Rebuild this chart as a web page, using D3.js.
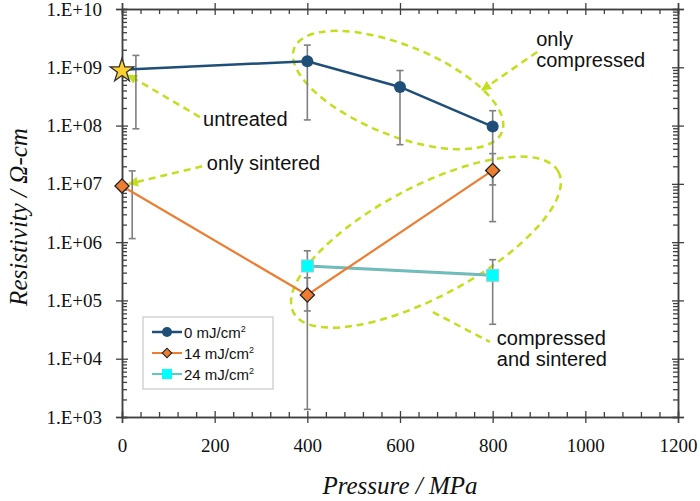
<!DOCTYPE html>
<html>
<head>
<meta charset="utf-8">
<script src="https://cdn.jsdelivr.net/npm/d3@7"></script>
<style>
  body { margin: 0; background: #fff; }
  svg { display: block; }
</style>
</head>
<body>
<script>
const w = 700;
const h = 501;
const plotLeft = 122, plotRight = 678, plotTop = 9, plotBottom = 417;

// ---- data ----
const xTicks = [0, 200, 400, 600, 800, 1000, 1200];
const yTicks = [1e3, 1e4, 1e5, 1e6, 1e7, 1e8, 1e9, 1e10];
const yTickLabels = ["1.E+03", "1.E+04", "1.E+05", "1.E+06", "1.E+07", "1.E+08", "1.E+09", "1.E+10"];

const seriesNames = ["0 mJ/cm", "14 mJ/cm", "24 mJ/cm"];

const p0 = [0, 400, 600, 800];
const r0 = [9.1e8, 1.27e9, 4.6e8, 9.6e7];
const e0x = [30, 400, 600, 800];
const e0lo = [8.8e7, 1.25e8, 4.7e7, 9.6e6];
const e0hi = [1.6e9, 2.4e9, 8.8e8, 1.8e8];

const p14 = [0, 400, 800];
const r14 = [9.2e6, 1.24e5, 1.7e7];
const e14x = [22, 400, 800];
const e14lo = [1.15e6, 1.35e3, 2.25e6];
const e14hi = [1.67e7, 2.45e5, 3.3e7];

const p24 = [400, 800];
const r24 = [3.9e5, 2.7e5];
const e24x = [400, 800];
const e24lo = [6.6e4, 3.9e4];
const e24hi = [7.1e5, 5.0e5];

const colors = ["#1f4e79", "#ed7d31", "#5cc8c8"];
const hi = "#c4de1c";

const xScale = d3.scaleLinear().domain([0, 1200]).range([plotLeft, plotRight]);
const yScale = d3.scaleLog().domain([1e3, 1e10]).range([plotBottom, plotTop]);

const svg = d3.select("body").append("svg")
  .attr("width", w).attr("height", h);

// ---- axes ----
const axisColor = "#404040";
const minorX = d3.range(0, 1201, 40).filter(d => d % 200 !== 0);
const minorY = [];
yTicks.slice(0, -1).forEach(d => { for (let k = 2; k <= 9; k++) minorY.push(d * k); });

function styleAxis(g) {
  g.select(".domain").attr("stroke", axisColor).attr("stroke-width", 1.5);
  g.selectAll(".tick line").attr("stroke", axisColor).attr("stroke-width", 1.3);
}

// bottom
svg.append("g").attr("transform", "translate(0," + plotBottom + ")")
  .call(d3.axisBottom(xScale).tickValues(minorX).tickSize(-5).tickFormat(""))
  .call(styleAxis);
const xb = svg.append("g").attr("transform", "translate(0," + plotBottom + ")")
  .call(d3.axisBottom(xScale).tickValues(xTicks).tickSize(6).tickPadding(16).tickFormat(d3.format("d")))
  .call(styleAxis);
xb.selectAll(".tick line").attr("y1", -6);
xb.selectAll("text").attr("font-family", "'Liberation Serif', 'Times New Roman', serif")
  .attr("font-size", 19).attr("fill", "#111");

// top
svg.append("g").attr("transform", "translate(0," + plotTop + ")")
  .call(d3.axisTop(xScale).tickValues(minorX).tickSize(-5).tickFormat(""))
  .call(styleAxis);
const xt = svg.append("g").attr("transform", "translate(0," + plotTop + ")")
  .call(d3.axisTop(xScale).tickValues(xTicks).tickSize(6).tickFormat(""))
  .call(styleAxis);
xt.selectAll(".tick line").attr("y1", 6);

// left
svg.append("g").attr("transform", "translate(" + plotLeft + ",0)")
  .call(d3.axisLeft(yScale).tickValues(minorY).tickSize(-5).tickFormat(""))
  .call(styleAxis);
const yl = svg.append("g").attr("transform", "translate(" + plotLeft + ",0)")
  .call(d3.axisLeft(yScale).tickValues(yTicks).tickSize(6).tickPadding(14)
    .tickFormat((d, i) => yTickLabels[i]))
  .call(styleAxis);
yl.selectAll(".tick line").attr("x1", 6);
yl.selectAll("text").attr("font-family", "'Liberation Serif', 'Times New Roman', serif")
  .attr("font-size", 19).attr("fill", "#111");

// right
svg.append("g").attr("transform", "translate(" + plotRight + ",0)")
  .call(d3.axisRight(yScale).tickValues(minorY).tickSize(-5).tickFormat(""))
  .call(styleAxis);
const yr = svg.append("g").attr("transform", "translate(" + plotRight + ",0)")
  .call(d3.axisRight(yScale).tickValues(yTicks).tickSize(6).tickFormat(""))
  .call(styleAxis);
yr.selectAll(".tick line").attr("x1", -6);

// axis titles
svg.append("text")
  .attr("x", (plotLeft + plotRight) / 2).attr("y", 494)
  .attr("text-anchor", "middle")
  .attr("font-family", "'Liberation Serif', 'Times New Roman', serif")
  .attr("font-style", "italic").attr("font-size", 25).attr("fill", "#111")
  .text("Pressure / MPa");

svg.append("text")
  .attr("transform", "translate(27,217) rotate(-90)")
  .attr("text-anchor", "middle")
  .attr("font-family", "'Liberation Serif', 'Times New Roman', serif")
  .attr("font-style", "italic").attr("font-size", 25).attr("fill", "#111")
  .text("Resistivity / Ω-cm");

// ---- annotations (drawn under data) ----
const dashed = { stroke: hi, "stroke-width": 2.5, "stroke-dasharray": "7,5", fill: "none" };
function applyAttrs(sel, obj) { Object.entries(obj).forEach(([k, v]) => sel.attr(k, v)); return sel; }

const ellipses = [
  { x: 596, y: 4.07e8, rx: 112, ry: 45, rot: 22 },
  { x: 656, y: 1.0e6, rx: 150, ry: 55, rot: -28 }
];
ellipses.forEach(e => {
  applyAttrs(svg.append("ellipse"), dashed)
    .attr("cx", 0).attr("cy", 0).attr("rx", e.rx).attr("ry", e.ry)
    .attr("transform", "translate(" + xScale(e.x) + "," + yScale(e.y) + ") rotate(" + e.rot + ")");
});

svg.append("defs").append("marker")
  .attr("id", "ah").attr("viewBox", "0 0 10 10").attr("refX", 9).attr("refY", 5)
  .attr("markerWidth", 4).attr("markerHeight", 4).attr("orient", "auto")
  .append("path").attr("d", "M0,0 L10,5 L0,10 z").attr("fill", hi);

const arrows = [
  { x1: 168, y1: 1.4e8, x2: 13, y2: 7.4e8, head: true },
  { x1: 173, y1: 2.0e7, x2: 15, y2: 1.0e7, head: true },
  { x1: 896, y1: 1.83e9, x2: 777, y2: 4.07e8, head: true },
  { x1: 671, y1: 6.3e4, x2: 794, y2: 1.94e4, head: false }
];
arrows.forEach(a => {
  const l = applyAttrs(svg.append("line"), dashed)
    .attr("x1", xScale(a.x1)).attr("y1", yScale(a.y1))
    .attr("x2", xScale(a.x2)).attr("y2", yScale(a.y2));
  if (a.head) l.attr("marker-end", "url(#ah)");
});

const notes = [
  { x: 175, y: 1.0e8, lines: ["untreated"] },
  { x: 183, y: 1.73e7, lines: ["only sintered"] },
  { x: 894, y: 2.3e9, lines: ["only", "compressed"] },
  { x: 809, y: 1.7e4, lines: ["compressed", "and sintered"] }
];
notes.forEach(n => {
  const t = svg.append("text")
    .attr("font-family", "'Liberation Sans', Arial, sans-serif")
    .attr("font-size", 20).attr("fill", "#111");
  n.lines.forEach((s, i) => {
    t.append("tspan").attr("x", xScale(n.x)).attr("y", yScale(n.y) + i * 21).text(s);
  });
});

// ---- error bars ----
function errorBars(xs, lo, hiv) {
  const g = svg.append("g").attr("stroke", "#7f7f7f").attr("stroke-width", 1.6);
  xs.forEach((xv, i) => {
    const cx = xScale(xv);
    g.append("line").attr("x1", cx).attr("x2", cx).attr("y1", yScale(lo[i])).attr("y2", yScale(hiv[i]));
    [lo[i], hiv[i]].forEach(v => {
      g.append("line").attr("x1", cx - 3.5).attr("x2", cx + 3.5).attr("y1", yScale(v)).attr("y2", yScale(v));
    });
  });
}
errorBars(e0x, e0lo, e0hi);
errorBars(e14x, e14lo, e14hi);
errorBars(e24x, e24lo, e24hi);

// ---- lines ----
const line = d3.line().x(d => xScale(d[0])).y(d => yScale(d[1]));
const s0 = d3.zip(p0, r0), s14 = d3.zip(p14, r14), s24 = d3.zip(p24, r24);

svg.append("path").datum(s24).attr("d", line).attr("fill", "none")
  .attr("stroke", "#8aa").attr("stroke-width", 3);
svg.append("path").datum(s24).attr("d", line).attr("fill", "none")
  .attr("stroke", colors[2]).attr("stroke-width", 1.6);
svg.append("path").datum(s14).attr("d", line).attr("fill", "none")
  .attr("stroke", colors[1]).attr("stroke-width", 2.2);
svg.append("path").datum(s0).attr("d", line).attr("fill", "none")
  .attr("stroke", colors[0]).attr("stroke-width", 2.5);

// ---- markers ----
svg.selectAll(".m0").data(s0.slice(1)).enter().append("circle")
  .attr("cx", d => xScale(d[0])).attr("cy", d => yScale(d[1]))
  .attr("r", 6).attr("fill", colors[0]);

svg.append("path").datum(s0[0])
  .attr("d", d3.symbol(d3.symbolStar, 175))
  .attr("transform", d => "translate(" + xScale(d[0]) + "," + (yScale(d[1]) + 1) + ")")
  .attr("fill", "#ffd12e").attr("stroke", "#333").attr("stroke-width", 1.3);

svg.selectAll(".m14").data(s14).enter().append("path")
  .attr("d", d3.symbol(d3.symbolSquare, 100))
  .attr("transform", d => "translate(" + xScale(d[0]) + "," + yScale(d[1]) + ") rotate(45)")
  .attr("fill", colors[1]).attr("stroke", "#222").attr("stroke-width", 1.3);

svg.selectAll(".m24").data(s24).enter().append("rect")
  .attr("x", d => xScale(d[0]) - 6).attr("y", d => yScale(d[1]) - 6)
  .attr("width", 12).attr("height", 12)
  .attr("fill", "#00ffff").attr("stroke", "#9cc").attr("stroke-width", 1);

// ---- legend ----
const lg = svg.append("g").attr("transform", "translate(143,317)");
lg.append("rect").attr("width", 130).attr("height", 72)
  .attr("fill", "#fff").attr("stroke", "#c8c8c8").attr("stroke-width", 1.2);
seriesNames.forEach((name, i) => {
  const yy = 15 + i * 21;
  const g = lg.append("g").attr("transform", "translate(0," + yy + ")");
  g.append("line").attr("x1", 9).attr("x2", 39).attr("y1", 0).attr("y2", 0)
    .attr("stroke", colors[i]).attr("stroke-width", i === 0 ? 2.5 : 2);
  if (i === 0) g.append("circle").attr("cx", 24).attr("r", 5).attr("fill", colors[0]);
  if (i === 1) g.append("path").attr("d", d3.symbol(d3.symbolSquare, 45))
    .attr("transform", "translate(24,0) rotate(45)").attr("fill", colors[1]).attr("stroke", "#222").attr("stroke-width", 1.1);
  if (i === 2) g.append("rect").attr("x", 19).attr("y", -5).attr("width", 10).attr("height", 10)
    .attr("fill", "#00ffff");
  const t = g.append("text").attr("x", 41).attr("y", 5.5)
    .attr("font-family", "'Liberation Sans', Arial, sans-serif")
    .attr("font-size", 15).attr("fill", "#111").text(name);
  t.append("tspan").attr("font-size", 9).attr("dy", -6).text("2");
});
</script>
</body>
</html>
